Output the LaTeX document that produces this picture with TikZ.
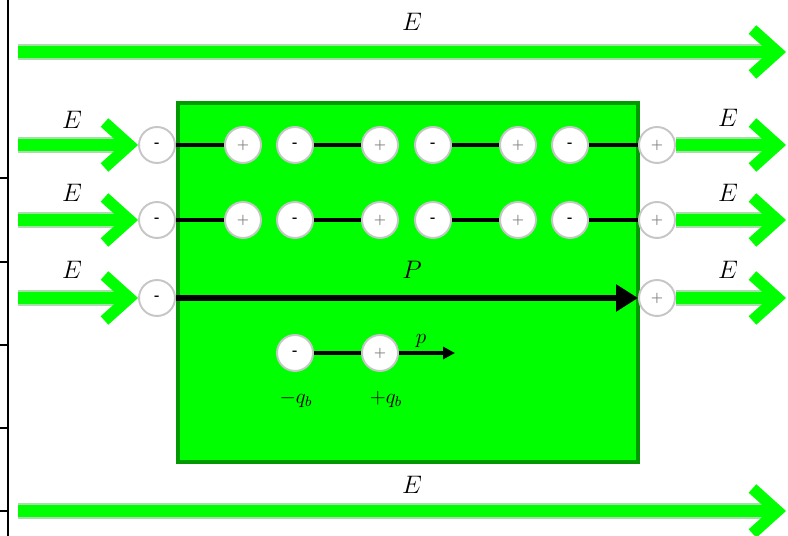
\documentclass[tikz,border=0pt]{standalone}
\usetikzlibrary{arrows.meta}
\definecolor{fieldGreen}{HTML}{00FF00}
\definecolor{fieldEdge}{HTML}{A8DCA8}
\definecolor{slabEdge}{HTML}{009900}
\definecolor{chargeRim}{HTML}{C6C6C6}
\definecolor{signGray}{HTML}{808080}
\tikzset{
    efield/.style={draw=fieldGreen, line width=6.5pt, -{Straight Barb[length=0.5cm, width=0.9cm]},
        preaction={draw=fieldEdge, line width=9pt, -, shorten >=0.35cm}},
    slab/.style={draw=slabEdge, line width=1.8pt, fill=fieldGreen},
    qneg/.style={circle, draw=chargeRim, line width=1.1pt, fill=white, minimum size=0.72cm, inner sep=0pt, font=\scriptsize\bfseries},
    qpos/.style={qneg, text=signGray},
    dline/.style={line width=2pt},
    elabel/.style={font=\Large},
    tickline/.style={line width=1.2pt}
}
\begin{document}
\begin{tikzpicture}[x=0.02cm, y=-0.02cm]
    \useasboundingbox (0,0) rectangle (788,536);

    % scale on the left edge
    \draw[tickline] (8,0) -- (8,536);
    \draw[tickline] (0,178) -- (8,178);
    \draw[tickline] (0,262) -- (8,262);
    \draw[tickline] (0,345) -- (8,345);
    \draw[tickline] (0,428) -- (8,428);
    \draw[tickline] (0,511) -- (8,511);

    % dielectric slab
    \draw[slab] (178,103) rectangle (638,462);

    % outer field lines
    \coordinate (top0) at (18,52);
    \coordinate (top1) at (786,52);
    \draw[efield] (top0) -- (top1);
    \node[elabel] (etop) at (412,22) {$E$};

    \coordinate (bot0) at (18,511);
    \coordinate (bot1) at (786,511);
    \draw[efield] (bot0) -- (bot1);
    \node[elabel] (ebot) at (412,485) {$E$};

    % first row of dipoles
    \node[qneg] (a0) at (157,145) {-};
    \node[qpos] (a1) at (243,145) {+};
    \node[qneg] (a2) at (295,145) {-};
    \node[qpos] (a3) at (380,145) {+};
    \node[qneg] (a4) at (433,145) {-};
    \node[qpos] (a5) at (518,145) {+};
    \node[qneg] (a6) at (570,145) {-};
    \node[qpos] (a7) at (657,145) {+};
    \draw[dline] (a0) -- (a1);
    \draw[dline] (a2) -- (a3);
    \draw[dline] (a4) -- (a5);
    \draw[dline] (a6) -- (a7);

    % second row of dipoles
    \node[qneg] (b0) at (157,220) {-};
    \node[qpos] (b1) at (243,220) {+};
    \node[qneg] (b2) at (295,220) {-};
    \node[qpos] (b3) at (380,220) {+};
    \node[qneg] (b4) at (433,220) {-};
    \node[qpos] (b5) at (518,220) {+};
    \node[qneg] (b6) at (570,220) {-};
    \node[qpos] (b7) at (657,220) {+};
    \draw[dline] (b0) -- (b1);
    \draw[dline] (b2) -- (b3);
    \draw[dline] (b4) -- (b5);
    \draw[dline] (b6) -- (b7);

    % net polarization
    \node[qneg] (c0) at (157,298) {-};
    \node[qpos] (c1) at (657,298) {+};
    \draw[line width=3.5pt, -{Triangle[length=0.44cm, width=0.52cm]}] (c0) -- (c1);
    \node[elabel] (pbig) at (412,270) {$P$};

    % field arrows at the surface charges
    \coordinate (a0in) at (18,145);
    \coordinate (b0in) at (18,220);
    \coordinate (c0in) at (18,298);
    \coordinate (a7out) at (786,145);
    \coordinate (b7out) at (786,220);
    \coordinate (c1out) at (786,298);
    \draw[efield] (a0in) -- (a0);
    \draw[efield] (b0in) -- (b0);
    \draw[efield] (c0in) -- (c0);
    \draw[efield] (a7) -- (a7out);
    \draw[efield] (b7) -- (b7out);
    \draw[efield] (c1) -- (c1out);
    \node[elabel] at (72,120) {$E$};
    \node[elabel] at (72,193) {$E$};
    \node[elabel] at (72,270) {$E$};
    \node[elabel] at (728,118) {$E$};
    \node[elabel] at (728,193) {$E$};
    \node[elabel] at (728,270) {$E$};

    % single dipole
    \node[qneg] (d0) at (295,353) {-};
    \node[qpos] (d1) at (380,353) {+};
    \coordinate (dtip) at (455,353);
    \draw[dline] (d0) -- (d1);
    \draw[line width=1.8pt, -{Triangle[length=0.24cm, width=0.24cm]}] (d1) -- (dtip);
    \node[font=\large] (psmall) at (421,341) {$p$};
    \node[font=\large] (qm) at (296,399) {$-q_b$};
    \node[font=\large] (qp) at (386,399) {$+q_b$};
\end{tikzpicture}
\end{document}
